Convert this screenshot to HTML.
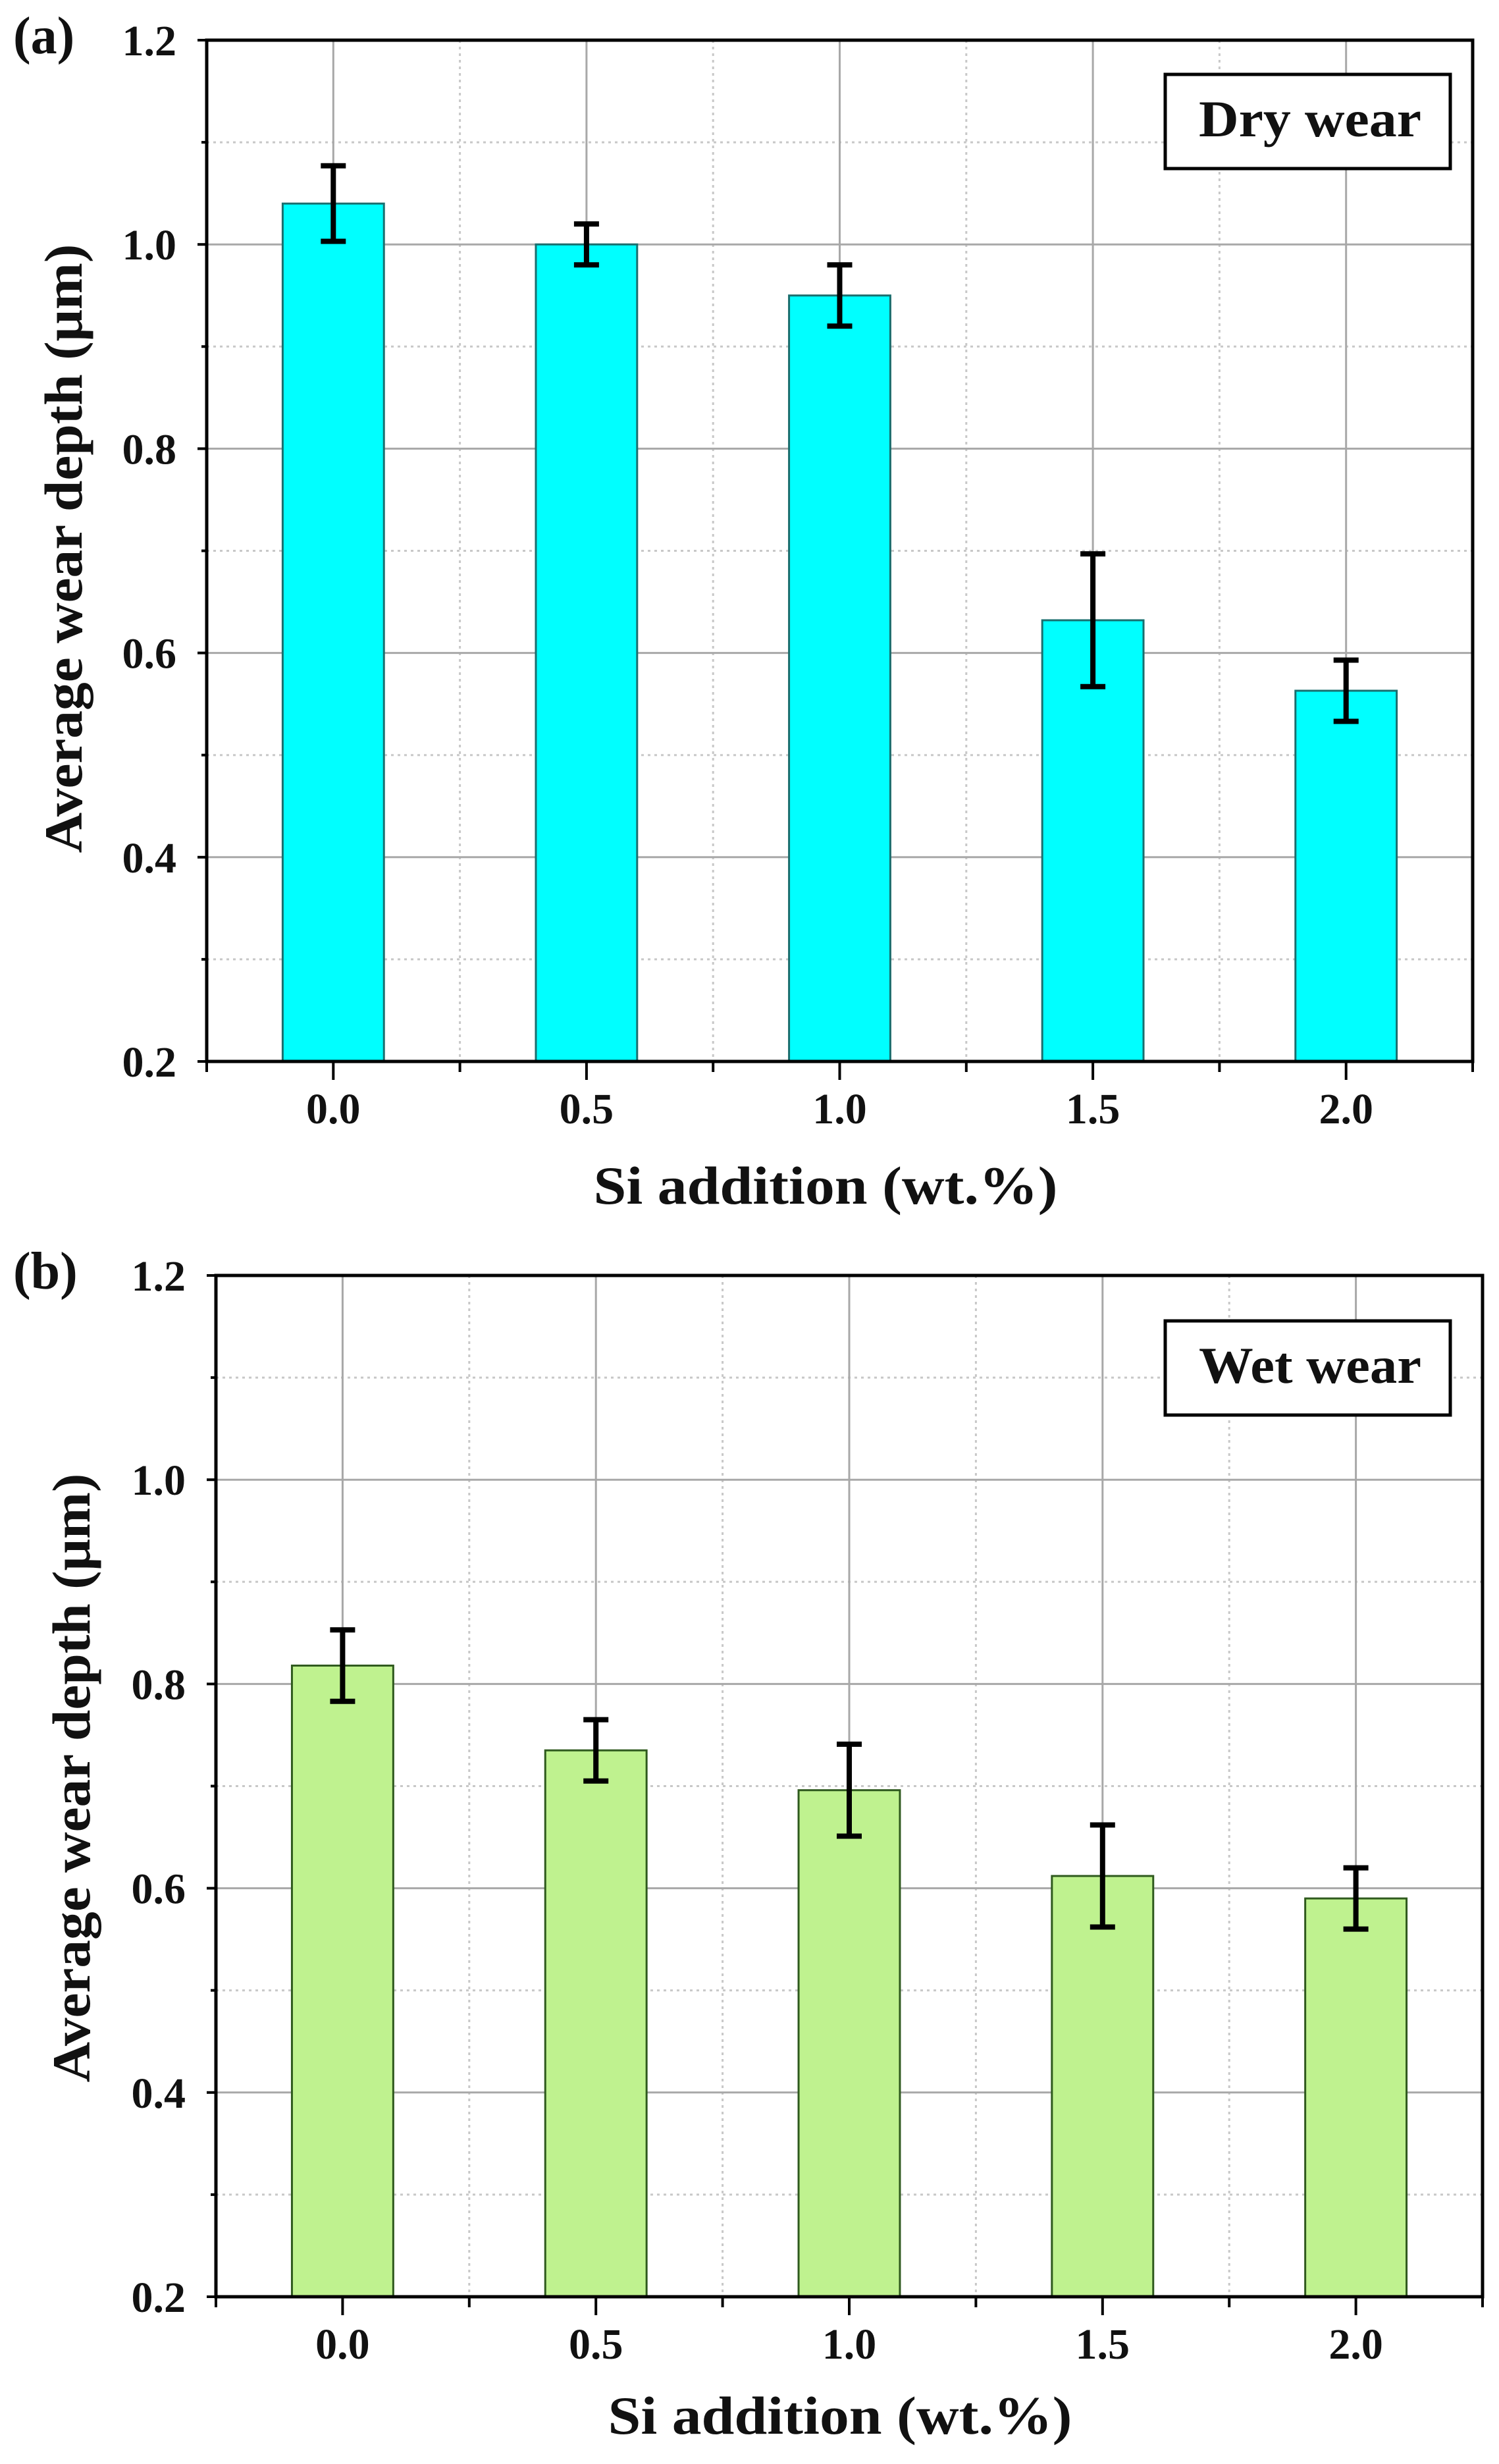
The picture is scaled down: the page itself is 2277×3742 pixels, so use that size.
<!DOCTYPE html>
<html><head><meta charset="utf-8"><style>
html,body{margin:0;padding:0;background:#fff;}
svg{display:block;}
text{font-family:"Liberation Serif",serif;font-weight:bold;fill:#111;}
</style></head><body>
<svg id="chart" width="2277" height="3742" viewBox="0 0 2277 3742" xmlns="http://www.w3.org/2000/svg"></svg>
<script>
const categories = ["0.0","0.5","1.0","1.5","2.0"];
const catValues = [0, 0.5, 1.0, 1.5, 2.0];
const dryValues = [1.04, 1.0, 0.95, 0.632, 0.563];
const dryErrors = [0.037, 0.02, 0.03, 0.065, 0.03];
const wetValues = [0.818, 0.735, 0.696, 0.612, 0.590];
const wetErrors = [0.035, 0.03, 0.045, 0.05, 0.03];
const yTickLabels = ["0.2","0.4","0.6","0.8","1.0","1.2"];
const yTickValues = [0.2,0.4,0.6,0.8,1.0,1.2];
const yMinorValues = [0.3,0.5,0.7,0.9,1.1];
const xMinorValues = [0.25,0.75,1.25,1.75];

const NS = "http://www.w3.org/2000/svg";
const svg = document.getElementById("chart");
function mk(tag, attrs, parent){
  const e = document.createElementNS(NS, tag);
  for (const k in attrs) e.setAttribute(k, attrs[k]);
  (parent||svg).appendChild(e);
  return e;
}

function panel(p){
  const g = mk("g", {});
  
  
  const xs = v => p.L + (v - (-0.25)) / 2.5 * (p.R - p.L);
  const ys = v => p.B - (v - 0.2) / 1.0 * (p.B - p.T);
  yMinorValues.forEach(v=>{
    const l = mk("line",{x1:p.L,x2:p.R,y1:ys(v),y2:ys(v),stroke:"#c8c8c8","stroke-width":3,"stroke-dasharray":"4 6"},g);
    
    
  });
  xMinorValues.forEach(v=>{
    const l = mk("line",{x1:xs(v),x2:xs(v),y1:p.T,y2:p.B,stroke:"#c8c8c8","stroke-width":3,"stroke-dasharray":"4 6"},g);
    
    
  });
  yTickValues.forEach(v=>{
    const l = mk("line",{x1:p.L,x2:p.R,y1:ys(v),y2:ys(v),stroke:"#a8a8a8","stroke-width":3},g);
    
    
  });
  catValues.forEach(v=>{
    const l = mk("line",{x1:xs(v),x2:xs(v),y1:p.T,y2:p.B,stroke:"#a8a8a8","stroke-width":3},g);
    
    
  });
  const bw = (p.R - p.L) / 2.5 * 0.2;
  p.values.forEach((v,i)=>{
    const cx = xs(catValues[i]);
    const r = mk("rect",{x:cx-bw/2,y:ys(v),width:bw,height:ys(0.2)-ys(v),fill:p.fill,stroke:p.stroke,"stroke-width":3},g);
    
    
  });
  p.values.forEach((v,i)=>{
    const cx = xs(catValues[i]);
    const e = p.errors[i];
    const eg = mk("g",{stroke:"#000","stroke-width":8},g);
    
    
    mk("line",{x1:cx,x2:cx,y1:ys(v+e),y2:ys(v-e)},eg);
    mk("line",{x1:cx-19,x2:cx+19,y1:ys(v+e),y2:ys(v+e)},eg);
    mk("line",{x1:cx-19,x2:cx+19,y1:ys(v-e),y2:ys(v-e)},eg);
  });
  const f = mk("rect",{x:p.L,y:p.T,width:p.R-p.L,height:p.B-p.T,fill:"none",stroke:"#000","stroke-width":5},g);
  
  
  yTickValues.forEach((v,i)=>{
    mk("line",{x1:p.L-14,x2:p.L,y1:ys(v),y2:ys(v),stroke:"#000","stroke-width":4},g);
    const t = mk("text",{x:p.L-46,y:ys(v)+23,"text-anchor":"end","font-size":66},g);
    t.textContent = yTickLabels[i];
    
    
  });
  yMinorValues.forEach(v=>mk("line",{x1:p.L-8,x2:p.L,y1:ys(v),y2:ys(v),stroke:"#000","stroke-width":4},g));
  catValues.forEach((v,i)=>{
    mk("line",{x1:xs(v),x2:xs(v),y1:p.B,y2:p.B+28,stroke:"#000","stroke-width":4},g);
    const t = mk("text",{x:xs(v),y:p.B+94,"text-anchor":"middle","font-size":66},g);
    t.textContent = categories[i];
    
    
  });
  xMinorValues.concat([-0.25,2.25]).forEach(v=>mk("line",{x1:xs(v),x2:xs(v),y1:p.B,y2:p.B+16,stroke:"#000","stroke-width":4},g));
  const xt = mk("text",{x:p.xtX,y:p.xtY,"text-anchor":"middle","font-size":82,textLength:705,lengthAdjust:"spacingAndGlyphs"},g);
  xt.textContent = "Si addition (wt.%)";
  
  
  const yt = mk("text",{x:0,y:0,"text-anchor":"middle","font-size":82,textLength:925,lengthAdjust:"spacingAndGlyphs",transform:"translate("+p.ytX+","+p.ytY+") rotate(-90)"},g);
  yt.textContent = "Average wear depth (\u03bcm)";
  
  
  const pl = mk("text",{x:20,y:p.T+20,"font-size":80},g);
  pl.textContent = p.label;
  
  
  const lb = mk("g",{},g);
  
  
  mk("rect",{x:1770,y:p.legY,width:433,height:143,fill:"#fff",stroke:"#000","stroke-width":5},lb);
  const lt = mk("text",{x:1990,y:p.legY+94,"text-anchor":"middle","font-size":78,textLength:338,lengthAdjust:"spacingAndGlyphs"},lb);
  lt.textContent = p.legend;
}

panel({name:"panel-a-dry-wear",L:314,R:2237,T:61,B:1612,values:dryValues,errors:dryErrors,
  fill:"#00ffff",stroke:"#1a6e6e",label:"(a)",legend:"Dry wear",legY:113,
  xtX:1254,xtY:1828,ytX:124,ytY:833});
panel({name:"panel-b-wet-wear",L:328,R:2252,T:1937,B:3488,values:wetValues,errors:wetErrors,
  fill:"#bff28f",stroke:"#2f5a1e",label:"(b)",legend:"Wet wear",legY:2006,
  xtX:1276,xtY:3696,ytX:136,ytY:2700});
</script>
</body></html>
